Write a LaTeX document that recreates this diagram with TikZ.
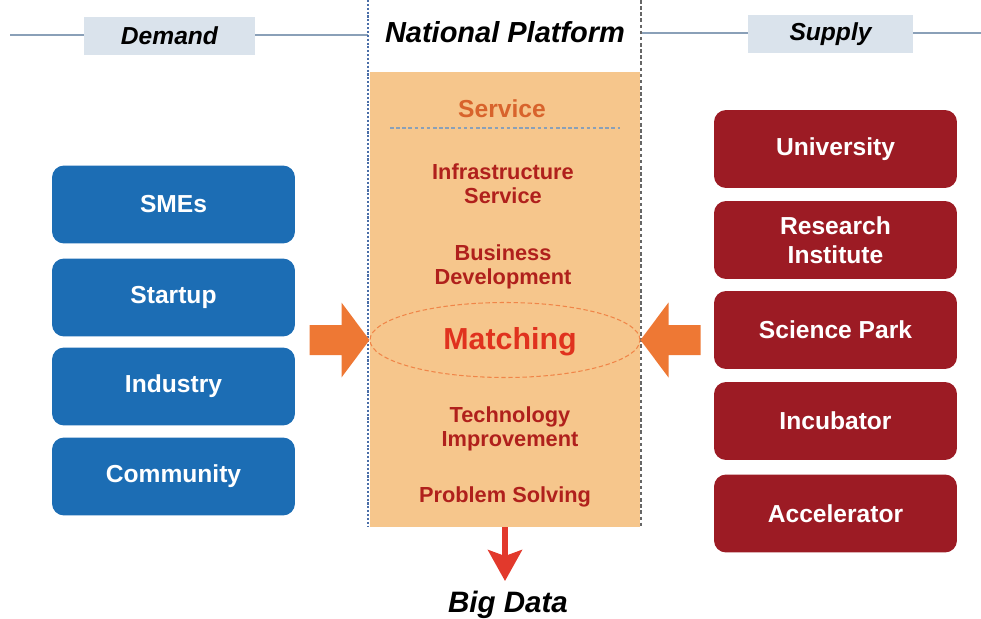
\documentclass[tikz,border=0pt]{standalone}
\usepackage{fontspec}
\setmainfont{Liberation Sans}
\usepackage{xcolor}
\usetikzlibrary{shapes.geometric,arrows.meta}

\definecolor{demandblue}{HTML}{1C6DB4}
\definecolor{supplyred}{HTML}{9C1B24}
\definecolor{platorange}{HTML}{F6C68C}
\definecolor{svctext}{HTML}{B0201C}
\definecolor{svchead}{HTML}{D8632C}
\definecolor{matchred}{HTML}{E0321E}
\definecolor{blockorange}{HTML}{EE7834}
\definecolor{downred}{HTML}{E2392C}
\definecolor{labelfill}{HTML}{DAE3EC}
\definecolor{headline}{HTML}{8AA0B8}
\definecolor{dotblue}{HTML}{4A6EA8}

\begin{document}
\begin{tikzpicture}[x=0.02cm,y=-0.02cm,
    demandbox/.style={fill=demandblue, rounded corners=0.24cm, minimum width=4.86cm,
        minimum height=1.56cm, text=white, align=center,
        font=\fontsize{14}{16.4}\selectfont\bfseries},
    supplybox/.style={fill=supplyred, rounded corners=0.24cm, minimum width=4.86cm,
        minimum height=1.56cm, text=white, align=center,
        font=\fontsize{14}{16.4}\selectfont\bfseries},
    headlabel/.style={fill=labelfill, minimum height=0.76cm,
        font=\fontsize{14}{16}\selectfont\bfseries\itshape},
    svcitem/.style={text=svctext, align=center,
        font=\fontsize{12.4}{13.8}\selectfont\bfseries}]
    \useasboundingbox (0,0) rectangle (981,619);

    % Header lines
    \draw[headline, line width=0.8pt] (10,35) -- (368,35);
    \draw[headline, line width=0.8pt] (641,33) -- (981,33);

    % Header labels
    \node[headlabel, minimum width=3.42cm] (demand) at (169.5,36) {Demand};
    \node[headlabel, minimum width=3.3cm] (supply) at (830.5,34) {Supply};
    \node[font=\fontsize{16.5}{18}\selectfont\bfseries\itshape] (national) at (505,32) {National Platform};

    % Platform column
    \node[fill=platorange, minimum width=5.4cm, minimum height=9.1cm, inner sep=0pt] (plat) at (505,299.5) {};
    \draw[dotblue, dash pattern=on 1.2pt off 1pt, line width=0.8pt] (368,0) -- (368,526);
    \draw[black!60, dash pattern=on 2pt off 1.5pt, line width=0.7pt] (641,0) -- (641,526);

    % Service items
    \node[text=svchead, font=\fontsize{14}{16}\selectfont\bfseries] (service) at (502,109) {Service};
    \draw[headline, dash pattern=on 2pt off 1.5pt, line width=1pt] (390,128) -- (620,128);
    \node[svcitem] (infra) at (503,184) {Infrastructure\\Service};
    \node[svcitem] (business) at (503,267) {Business\\Development};
    \node[ellipse, draw=blockorange!90, dash pattern=on 2.5pt off 1.5pt, line width=0.6pt,
        minimum width=5.4cm, minimum height=1.5cm, inner sep=0pt] (match) at (505,340) {};
    \node[text=matchred, font=\fontsize{17.3}{19}\selectfont\bfseries] (matching) at (510,342) {Matching};
    \node[svcitem] (techimp) at (510,429) {Technology\\Improvement};
    \node[svcitem] (problem) at (505,497) {Problem Solving};

    % Demand side
    \node[demandbox] (smes) at (173.5,204.5) {SMEs};
    \node[demandbox] (startup) at (173.5,297.5) {Startup};
    \node[demandbox] (industry) at (173.5,386.5) {Industry};
    \node[demandbox] (community) at (173.5,476.5) {Community};

    % Supply side
    \node[supplybox] (univ) at (835.5,149) {University};
    \node[supplybox] (research) at (835.5,240) {Research\\Institute};
    \node[supplybox] (scipark) at (835.5,330) {Science Park};
    \node[supplybox] (incub) at (835.5,421) {Incubator};
    \node[supplybox] (accel) at (835.5,513.5) {Accelerator};

    % Block arrows into matching
    \fill[blockorange] (match.west) -- ++(-28,-37.5) -- ++(0,22.5) -- ++(-32,0)
        -- ++(0,30) -- ++(32,0) -- ++(0,22.5) -- cycle;
    \fill[blockorange] (match.east) -- ++(28,-37.5) -- ++(0,22.5) -- ++(32,0)
        -- ++(0,30) -- ++(-32,0) -- ++(0,22.5) -- cycle;

    % Output
    \node[font=\fontsize{16.8}{18}\selectfont\bfseries\itshape] (bigdata) at (508,605) {Big Data};
    \draw[downred, line width=3pt, -{Stealth[length=0.62cm, width=0.68cm, inset=0.12cm]}]
        (plat.south) -- (505,581);
\end{tikzpicture}
\end{document}
